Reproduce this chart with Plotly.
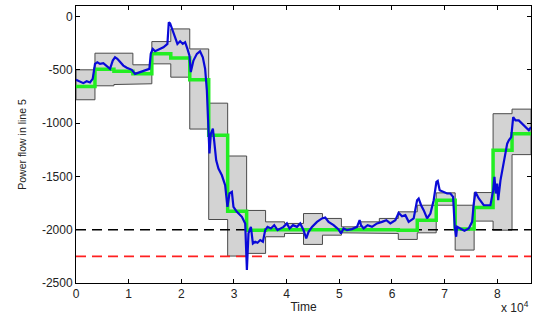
import plotly.graph_objects as go

# Hourly interval bounds (upper, lower) and scheduled flow (green step)
hour_edges_s = [h * 3600 for h in range(25)]
band_upper = [-499, -343, -343, -452, -234, -115, -303, -812, -1308, -1819, -1926, -1941,
              -1848, -1894, -1973, -1926, -1894, -1832, -1770, -1654, -1770, -1651, -911, -868]
band_lower = [-780, -649, -637, -630, -443, -568, -1055, -1904, -2247, -2222, -2066, -2035,
              -2138, -2051, -2029, -2029, -2035, -2091, -2029, -1770, -2191, -1919, -2004, -1295]
scheduled = [-655, -493, -512, -537, -349, -387, -593, -1114, -1826, -2004, -2000, -2000,
             -2000, -2000, -2000, -2000, -2000, -2004, -1910, -1723, -1994, -1791, -1255, -1098]

# Actual power flow (blue)
actual_t = [0, 760, 1390, 2030, 2660, 3170, 3610, 4050, 4560, 5190, 5840, 6460, 6980, 7410, 7850,
            8360, 8990, 9640, 10590, 11220, 12170, 13120, 13930, 14200, 14580, 15020, 15650, 16600,
            17360, 17620, 17870, 18190, 18820, 19260, 19770, 20280, 20720, 21160, 21540, 21800,
            22300, 22950, 23550, 24080, 24520, 24850, 25150, 25340, 25610, 25990, 26230, 26620,
            27050, 27700, 28320, 28760, 29140, 29600, 29900, 30550, 31500, 32130, 32450, 32750,
            33210, 33590, 34030, 34470, 34980, 35490, 35930, 36370, 37010, 37640, 38270, 38780,
            39410, 40050, 40550, 41200, 41960, 42580, 43210, 43720, 44160, 44810, 45760, 46710,
            47330, 47960, 48910, 49860, 50320, 50810, 51460, 52410, 53360, 53860, 54120, 54620,
            55380, 56210, 57160, 58110, 58930, 59690, 60640, 61270, 61910, 62540, 63170, 64120,
            64770, 65070, 65530, 66020, 66670, 67300, 67920, 68440, 68690, 69060, 69710, 70470,
            71100, 71610, 71920, 72190, 72370, 73000, 73760, 74580, 75220, 75530, 75850, 76480,
            77430, 78700, 79220, 79460, 79710, 79980, 80170, 80600, 81230, 81880, 82190, 82640,
            83020, 83460, 84080, 84730, 85360, 85990, 86400]
actual_p = [-593, -606, -624, -606, -618, -584, -443, -428, -443, -437, -468, -490, -412, -381, -396,
            -428, -459, -480, -499, -537, -521, -506, -490, -349, -303, -325, -312, -287,
            -256, -53, -63, -115, -194, -256, -231, -256, -240, -303, -365, -520,
            -412, -349, -325, -381, -490, -693, -1036, -1283, -1098, -1052, -1161, -1348,
            -1426, -1489, -1582, -1785, -1660, -1645, -1785, -1832, -1879, -1941, -2378, -2035,
            -1973, -2129, -2113, -2122, -2097, -2113, -2004, -1973, -1988, -1957, -2004, -1988,
            -1973, -1941, -1988, -1957, -1973, -1941, -2004, -2082, -2020, -1973, -1926, -1894,
            -1885, -1926, -1957, -1998, -2035, -1988, -2004, -1994, -1973, -1910, -1957, -1988,
            -1957, -1973, -1941, -1926, -1910, -1941, -1910, -1842, -1873, -1863, -1926, -1894,
            -1723, -1707, -1770, -1816, -1894, -1848, -1723, -1551, -1542, -1629, -1645, -1660,
            -1660, -1692, -1973, -2066, -1973, -1988, -2010, -1988, -1926, -1754, -1645, -1707,
            -1770, -1770, -1629, -1504, -1660, -1567, -1723, -1536, -1379, -1192, -1161, -1130,
            -943, -974, -974, -1005, -1036, -1067, -1036]

limit_black = -2000
limit_red = -2250

x_tick_vals = [0, 10000, 20000, 30000, 40000, 50000, 60000, 70000, 80000]
x_tick_text = ["0", "1", "2", "3", "4", "5", "6", "7", "8"]
y_tick_vals = [-2500, -2000, -1500, -1000, -500, 0]
y_tick_text = ["-2500", "-2000", "-1500", "-1000", "-500", "0"]

# band polygon built from hourly bounds
poly_x, poly_y = [], []
for i in range(24):
    poly_x += [hour_edges_s[i], hour_edges_s[i + 1]]
    poly_y += [band_upper[i], band_upper[i]]
for i in range(23, -1, -1):
    poly_x += [hour_edges_s[i + 1], hour_edges_s[i]]
    poly_y += [band_lower[i], band_lower[i]]
poly_x.append(poly_x[0])
poly_y.append(poly_y[0])

t_end = hour_edges_s[-1]

fig = go.Figure()
fig.add_trace(go.Scatter(x=poly_x, y=poly_y, mode="lines", fill="toself",
                         fillcolor="#d3d3d3", line=dict(color="#4a4a4a", width=1),
                         hoverinfo="skip", showlegend=False))
fig.add_trace(go.Scatter(x=[0, t_end], y=[limit_black, limit_black], mode="lines",
                         line=dict(color="black", width=1.6, dash="10px,6px"), showlegend=False))
fig.add_trace(go.Scatter(x=[0, t_end], y=[limit_red, limit_red], mode="lines",
                         line=dict(color="#ff2020", width=1.6, dash="10px,6px"), showlegend=False))
fig.add_trace(go.Scatter(x=hour_edges_s, y=scheduled + [scheduled[-1]], mode="lines",
                         line=dict(color="#22ee22", width=3.5, shape="hv"), showlegend=False))
fig.add_trace(go.Scatter(x=actual_t, y=actual_p, mode="lines",
                         line=dict(color="#0a0ad8", width=2.2), showlegend=False))

axis_font = dict(family="Liberation Sans, Arial, sans-serif", size=12, color="#222222")
fig.update_xaxes(range=[0, t_end], tickvals=x_tick_vals, ticktext=x_tick_text,
                 ticks="inside", ticklen=4, tickcolor="black", mirror="ticks",
                 showline=True, linecolor="black", linewidth=1, showgrid=False, zeroline=False,
                 tickfont=axis_font,
                 title=dict(text="Time", font=dict(family="Liberation Sans, Arial, sans-serif",
                                                   size=12, color="#222222"), standoff=2))
fig.update_yaxes(range=[-2500, 100], tickvals=y_tick_vals, ticktext=y_tick_text,
                 ticks="inside", ticklen=4, tickcolor="black", mirror="ticks",
                 showline=True, linecolor="black", linewidth=1, showgrid=False, zeroline=False,
                 tickfont=axis_font,
                 title=dict(text="Power flow in line 5",
                            font=dict(family="Liberation Sans, Arial, sans-serif",
                                      size=10.5, color="#222222"), standoff=13))
fig.add_annotation(text="x 10<sup>4</sup>", xref="paper", yref="paper", x=1.0, y=-0.122,
                   xanchor="right", yanchor="bottom", showarrow=False,
                   font=dict(family="Liberation Sans, Arial, sans-serif", size=12, color="#222222"))
fig.update_layout(width=533, height=320, margin=dict(l=76, r=2, t=6, b=37),
                  plot_bgcolor="white", paper_bgcolor="white")
fig.write_html("out.html", config={"displayModeBar": False},
               post_script="document.body.style.margin='0';document.body.style.padding='0';")
